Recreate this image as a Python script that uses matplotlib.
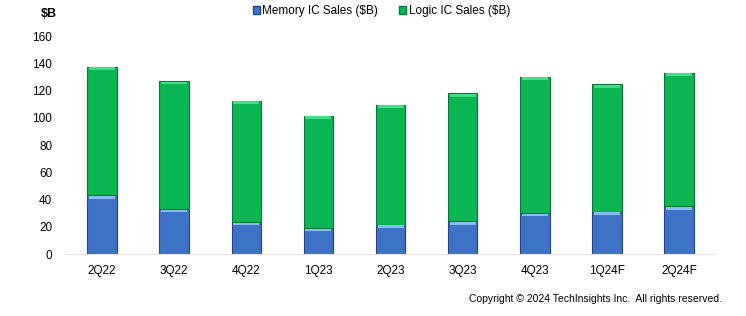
import numpy as np
import matplotlib.pyplot as plt
from matplotlib.patches import Patch

plt.rcParams['font.family'] = ['Liberation Sans', 'DejaVu Sans']

quarters = ['2Q22', '3Q22', '4Q22', '1Q23', '2Q23', '3Q23', '4Q23', '1Q24F', '2Q24F']
memory_sales = [43, 33, 23.5, 19, 21.5, 24, 30, 31, 35]
total_sales = [137.5, 127, 112.5, 101.5, 109.5, 118, 130, 124.5, 133]
logic_sales = [t - m for t, m in zip(total_sales, memory_sales)]

blue = '#3d72c6'
green = '#0bb552'

fig = plt.figure(figsize=(7.46, 3.16), dpi=100)
ax = fig.add_axes([0.0885, 0.196, 0.87, 0.69])

x = np.arange(len(quarters))
width = 0.41
ax.bar(x, memory_sales, width, color=blue, edgecolor='#22467c', linewidth=0.8)
ax.bar(x, logic_sales, width, bottom=memory_sales, color=green, edgecolor='#07743a', linewidth=0.8)

# light bevel strip on top of each segment
ax.bar(x, [2.0] * len(x), width * 0.88, bottom=[m - 2.4 for m in memory_sales], color='#86bdf2', linewidth=0)
ax.bar(x, [2.0] * len(x), width * 0.88, bottom=[t - 2.4 for t in total_sales], color='#45dc88', linewidth=0)

ax.set_xlim(-0.5, len(quarters) - 0.5)
ax.set_ylim(0, 160)
ax.set_yticks(range(0, 161, 20))
ax.set_xticks(x)
ax.set_xticklabels(quarters)
ax.tick_params(length=0, labelsize=8.5)
ax.tick_params(axis='x', pad=8)
ax.tick_params(axis='y', pad=10)
for side in ['top', 'right', 'left']:
    ax.spines[side].set_visible(False)
ax.spines['bottom'].set_color('#e4e4e4')

fig.text(0.065, 0.955, '$B', fontsize=9, fontweight='bold', ha='center', va='center')

handles = [Patch(facecolor=blue, edgecolor='#22467c', label='Memory IC Sales ($B)'),
           Patch(facecolor=green, edgecolor='#07743a', label='Logic IC Sales ($B)')]
fig.legend(handles=handles, loc='center', bbox_to_anchor=(0.511, 0.965), ncol=2, frameon=False,
           fontsize=8.5, handlelength=0.6, handleheight=0.6, handletextpad=0.2, columnspacing=1.8)

fig.text(0.968, 0.053, 'Copyright \u00a9 2024 TechInsights Inc.  All rights reserved.', fontsize=7.5, ha='right', va='center')

fig.savefig('out.png', dpi=100)
